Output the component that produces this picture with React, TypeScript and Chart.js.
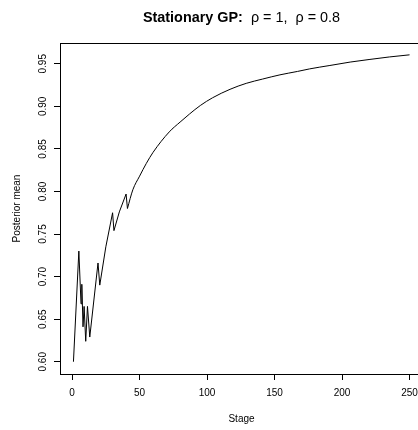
import React, { useEffect, useRef } from "react";
import { Chart, registerables } from "chart.js";

Chart.register(...registerables);

// Data
const STAGES = [1, 5, 6.6, 7.2, 8.1, 8.9, 10.1, 11.4, 13.1, 19.2, 20.5, 25, 30, 31, 35, 40, 41, 45, 50, 55, 60, 72, 80, 87, 95, 104, 117, 129, 141, 154, 167, 176, 191, 206, 220, 235, 250];
const MEANS = [0.6, 0.73, 0.668, 0.691, 0.641, 0.665, 0.624, 0.665, 0.629, 0.716, 0.69, 0.735, 0.775, 0.754, 0.776, 0.797, 0.78, 0.802, 0.818, 0.833, 0.846, 0.87, 0.8815, 0.891, 0.901, 0.91, 0.92, 0.927, 0.932, 0.937, 0.941, 0.944, 0.948, 0.952, 0.955, 0.958, 0.9605];
const SMOOTH_FROM_STAGE = 41;

const X_TICKS = [0, 50, 100, 150, 200, 250];
const Y_TICKS = [0.6, 0.65, 0.7, 0.75, 0.8, 0.85, 0.9, 0.95];
const Y_TICK_LABELS = ["0.60", "0.65", "0.70", "0.75", "0.80", "0.85", "0.90", "0.95"];

const TITLE_BOLD = "Stationary GP:";
const TITLE_PLAIN = "  ρ = 1,  ρ = 0.8";
const X_TITLE = "Stage";
const Y_TITLE = "Posterior mean";

const X_MIN = -8.96;
const X_MAX = 259.96;
const Y_MIN = 0.5856;
const Y_MAX = 0.9744;

const FONT = "'Liberation Sans', Arial, Helvetica, sans-serif";

export default function App() {
  const ref = useRef<HTMLCanvasElement | null>(null);

  useEffect(() => {
    const canvas = ref.current;
    if (!canvas) return;
    const splitIdx = STAGES.indexOf(SMOOTH_FROM_STAGE);
    const jagged = STAGES.slice(0, splitIdx + 1).map((x, i) => ({ x, y: MEANS[i] }));
    const smooth = STAGES.slice(splitIdx).map((x, i) => ({ x, y: MEANS[splitIdx + i] }));

    const decor = {
      id: "decor",
      afterDraw(chart: any) {
        const { ctx, chartArea } = chart;
        ctx.save();
        // box
        ctx.strokeStyle = "#000";
        ctx.lineWidth = 1;
        ctx.strokeRect(
          Math.round(chartArea.left) + 0.5,
          Math.round(chartArea.top) + 0.5,
          Math.round(chartArea.right - chartArea.left),
          Math.round(chartArea.bottom - chartArea.top)
        );
        // y tick labels (rotated, R style)
        const ys = chart.scales.y;
        ctx.fillStyle = "#000";
        ctx.font = `10px ${FONT}`;
        ctx.textAlign = "center";
        ctx.textBaseline = "alphabetic";
        Y_TICKS.forEach((v, i) => {
          const py = ys.getPixelForValue(v);
          ctx.save();
          ctx.translate(45.6, py);
          ctx.rotate(-Math.PI / 2);
          ctx.fillText(Y_TICK_LABELS[i], 0, 0);
          ctx.restore();
        });
        // title
        const cx = (chartArea.left + chartArea.right) / 2;
        ctx.font = `bold 14.4px ${FONT}`;
        const wb = ctx.measureText(TITLE_BOLD).width;
        ctx.font = `14.4px ${FONT}`;
        const wp = ctx.measureText(TITLE_PLAIN).width;
        const start = cx - (wb + wp) / 2;
        ctx.textAlign = "left";
        ctx.textBaseline = "alphabetic";
        ctx.font = `bold 14.4px ${FONT}`;
        ctx.fillText(TITLE_BOLD, start, 22);
        ctx.font = `14.4px ${FONT}`;
        ctx.fillText(TITLE_PLAIN, start + wb, 22);
        ctx.restore();
      },
    };

    const lineStyle = {
      borderColor: "#000",
      borderWidth: 1,
      pointRadius: 0,
      fill: false,
    };

    const chart = new Chart(canvas, {
      type: "line",
      data: {
        datasets: [
          { ...lineStyle, data: jagged, tension: 0 },
          { ...lineStyle, data: smooth, cubicInterpolationMode: "monotone" },
        ],
      },
      options: {
        animation: false,
        responsive: false,
        devicePixelRatio: 1,
        layout: { padding: { top: 43, right: 7, left: 0, bottom: 0 } },
        plugins: { legend: { display: false }, tooltip: { enabled: false }, title: { display: false } },
        scales: {
          x: {
            type: "linear",
            min: X_MIN,
            max: X_MAX,
            afterBuildTicks: (s: any) => {
              s.ticks = X_TICKS.map((v) => ({ value: v }));
            },
            afterFit: (s: any) => {
              s.height = 56;
            },
            grid: { drawOnChartArea: false, drawTicks: true, tickLength: 6, color: "#000", lineWidth: 1 },
            border: { display: true, color: "#000", width: 1 },
            ticks: {
              padding: 7,
              color: "#000",
              autoSkip: false,
              maxRotation: 0,
              font: { family: FONT, size: 10 },
              callback: (v: any) => String(v),
            },
            title: { display: true, text: X_TITLE, color: "#000", font: { family: FONT, size: 10 }, padding: 5 },
          },
          y: {
            type: "linear",
            min: Y_MIN,
            max: Y_MAX,
            afterBuildTicks: (s: any) => {
              s.ticks = Y_TICKS.map((v) => ({ value: v }));
            },
            afterFit: (s: any) => {
              s.width = 60;
            },
            grid: { drawOnChartArea: false, drawTicks: true, tickLength: 6, color: "#000", lineWidth: 1 },
            border: { display: true, color: "#000", width: 1 },
            ticks: { display: false },
            title: { display: true, text: Y_TITLE, color: "#000", font: { family: FONT, size: 10 }, padding: 11 },
          },
        },
      },
      plugins: [decor],
    } as any);
    return () => chart.destroy();
  }, []);

  return (
    <div style={{ position: "fixed", left: 0, top: 0, width: 418, height: 430, overflow: "hidden", background: "#fff" }}>
      <canvas ref={ref} width={430} height={430} style={{ display: "block", width: 430, height: 430 }} />
    </div>
  );
}
